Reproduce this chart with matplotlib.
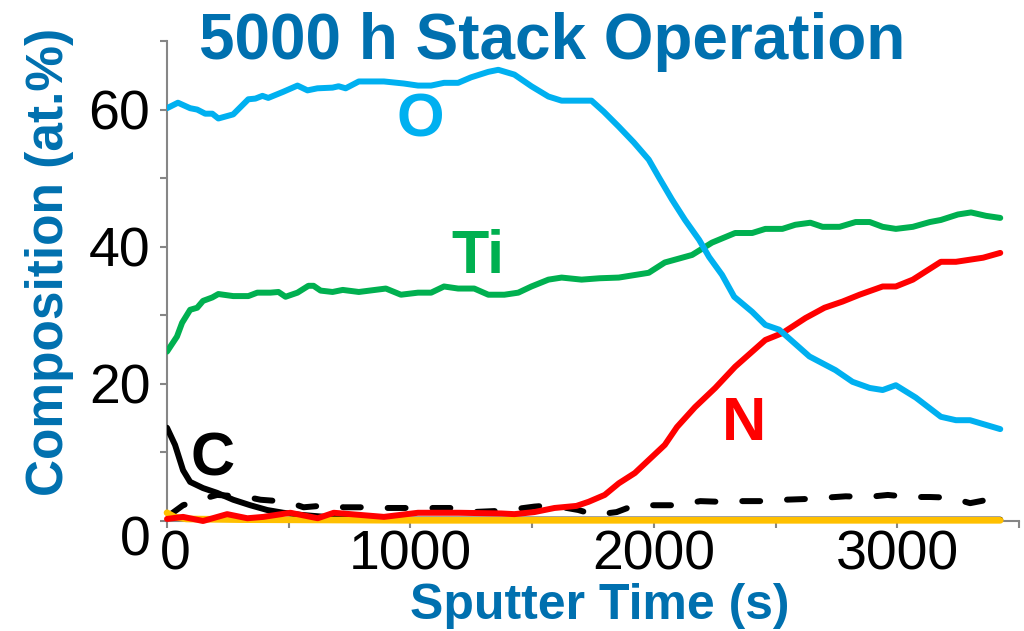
import matplotlib
matplotlib.use("Agg")
import matplotlib.pyplot as plt
import matplotlib.transforms as mtransforms

plt.rcParams['font.family'] = ['Liberation Sans', 'DejaVu Sans']

# sputter time (s) and composition (at.%)
o_t = [0, 45, 95, 124, 157, 186, 211, 272, 334, 363, 392, 416, 478, 536, 577, 618, 680, 705, 734,
       788, 891, 973, 1031, 1085, 1138, 1196, 1249, 1320, 1361, 1427, 1497, 1567, 1621, 1744, 1794,
       1856, 1918, 1979, 2021, 2074, 2128, 2186, 2227, 2280, 2330, 2404, 2458, 2515, 2639, 2746,
       2816, 2887, 2940, 2994, 3076, 3179, 3241, 3299, 3423]
o_v = [60.2, 61.0, 60.2, 60.0, 59.4, 59.4, 58.7, 59.3, 61.5, 61.6, 62.0, 61.7, 62.6, 63.5, 62.8, 63.1,
       63.2, 63.4, 63.1, 64.1, 64.1, 63.8, 63.5, 63.5, 63.9, 63.9, 64.7, 65.5, 65.8, 65.1, 63.4, 61.9,
       61.3, 61.3, 59.7, 57.5, 55.2, 52.7, 50.1, 46.9, 43.9, 41.0, 38.5, 35.9, 32.7, 30.5, 28.6, 27.9,
       24.0, 22.0, 20.3, 19.4, 19.1, 19.8, 18.0, 15.2, 14.7, 14.7, 13.4]

ti_t = [0, 41, 62, 95, 124, 148, 186, 211, 272, 334, 371, 425, 458, 487, 536, 581, 602, 631, 680,
        722, 788, 899, 961, 1031, 1085, 1138, 1196, 1262, 1320, 1386, 1443, 1497, 1567, 1621, 1703,
        1777, 1856, 1979, 2045, 2157, 2239, 2334, 2404, 2458, 2528, 2581, 2643, 2693, 2763, 2829,
        2887, 2940, 2994, 3064, 3134, 3179, 3249, 3303, 3365, 3423]
ti_v = [24.7, 26.9, 28.9, 30.8, 31.1, 32.1, 32.6, 33.1, 32.8, 32.8, 33.3, 33.3, 33.4, 32.7, 33.3, 34.3,
        34.3, 33.6, 33.4, 33.7, 33.4, 33.9, 33.0, 33.3, 33.3, 34.2, 33.9, 33.9, 33.0, 33.0, 33.3, 34.2,
        35.2, 35.5, 35.2, 35.4, 35.5, 36.2, 37.7, 38.8, 40.6, 42.0, 42.0, 42.6, 42.6, 43.2, 43.5, 42.9,
        42.9, 43.6, 43.6, 42.9, 42.6, 42.9, 43.6, 43.9, 44.7, 45.0, 44.5, 44.2]

n_t = [0, 66, 148, 247, 330, 396, 507, 619, 685, 891, 1031, 1200, 1373, 1427, 1509, 1592, 1682, 1732,
       1798, 1856, 1922, 1979, 2045, 2095, 2169, 2252, 2334, 2458, 2528, 2623, 2701, 2775, 2845,
       2940, 2994, 3064, 3117, 3179, 3241, 3353, 3423]
n_v = [0.3, 0.6, 0.0, 1.0, 0.4, 0.6, 1.2, 0.4, 1.2, 0.6, 1.2, 1.2, 1.1, 1.0, 1.3, 1.9, 2.2, 2.8, 3.8,
       5.5, 7.0, 8.9, 11.1, 13.7, 16.6, 19.4, 22.5, 26.4, 27.4, 29.6, 31.1, 32.0, 33.0, 34.2, 34.2,
       35.2, 36.4, 37.8, 37.8, 38.4, 39.1]

c_t = [0, 33, 66, 95, 148, 206, 272, 342, 412, 478, 548, 650, 800, 1000, 3423]
c_v = [13.6, 11.1, 7.4, 5.7, 4.8, 4.1, 3.1, 2.3, 1.6, 1.2, 0.9, 0.6, 0.3, 0.2, 0.2]

dash_t = [12, 66, 165, 206, 330, 384, 495, 561, 660, 726, 825, 907, 1002, 1072, 1167, 1249, 1380,
          1509, 1579, 1690, 1757, 1847, 1922, 2021, 2103, 2190, 2272, 2363, 2445, 2536, 2619, 2705,
          2788, 2878, 2961, 3052, 3134, 3221, 3299, 3386, 3423]
dash_v = [0.9, 2.3, 3.4, 3.8, 3.5, 3.1, 2.8, 2.0, 2.3, 2.0, 2.0, 1.9, 1.9, 1.9, 1.9, 1.3, 1.5, 2.1, 2.3,
          1.6, 0.9, 1.3, 2.3, 2.3, 2.3, 2.9, 2.8, 2.9, 2.9, 3.1, 3.2, 3.4, 3.6, 3.5, 3.8, 3.5, 3.5,
          3.4, 2.6, 3.2, 3.2]

y_t = [0, 30, 80, 300, 1000, 3423]
y_v = [1.2, 0.6, 0.3, 0.2, 0.1, 0.1]

labels = ['O', 'Ti', 'N', 'C']
label_pos = [(1039, 58.4), (1278, 38.4), (2371, 14.0), (186, 8.9)]
label_col = ['#00B0F0', '#00B050', '#FF0000', '#000000']

blue = '#0070AF'
gray = '#868686'

fig = plt.figure(figsize=(10.24, 6.31), dpi=100)
ax = fig.add_axes([167 / 1024, 1 - 521 / 631, (1019 - 167) / 1024, (521 - 41) / 631])

lw = 4.3
ax.plot(c_t, c_v, color='black', lw=lw, solid_capstyle='round', zorder=2)
ax.plot(dash_t, dash_v, color='black', lw=lw, dashes=(3, 4.5), dash_capstyle='round', zorder=2)
ax.plot(y_t, y_v, color='#FFC000', lw=lw + 0.5, solid_capstyle='round', zorder=3, clip_on=False)
ax.plot(n_t, n_v, color='#FF0000', lw=lw, solid_capstyle='round', zorder=4, clip_on=False)
ax.plot(ti_t, ti_v, color='#00B050', lw=lw, solid_capstyle='round', zorder=4)
ax.plot(o_t, o_v, color='#00B0F0', lw=lw, solid_capstyle='round', zorder=4)

for lab, (x, y), c in zip(labels, label_pos, label_col):
    ax.text(x, y, lab, color=c, fontsize=44, fontweight='bold', ha='center', va='center')

ax.set_xlim(0, 3500)
ax.set_ylim(0, 70)
ax.set_xticks(range(0, 3501, 500))
ax.set_xticklabels(['0', '', '1000', '', '2000', '', '3000', ''])
ax.set_yticks(range(0, 71, 10))
ax.set_yticklabels(['0', '', '20', '', '40', '', '60', ''])
ax.tick_params(axis='both', direction='out', length=5, width=1.5, color=gray, labelsize=40)
ax.tick_params(axis='x', pad=1)
ax.tick_params(axis='y', pad=7)

for s in ['top', 'right']:
    ax.spines[s].set_visible(False)
for s in ['left', 'bottom']:
    ax.spines[s].set_color(gray)
    ax.spines[s].set_linewidth(1.5)
    ax.spines[s].set_zorder(1)

# the "0" labels sit a bit off their ticks in the original
xl0 = ax.get_xticklabels()[0]
xl0.set_transform(xl0.get_transform() + mtransforms.ScaledTranslation(8 / 100, 0, fig.dpi_scale_trans))
yl0 = ax.get_yticklabels()[0]
yl0.set_transform(yl0.get_transform() + mtransforms.ScaledTranslation(0, -14 / 100, fig.dpi_scale_trans))

fig.text(552 / 1024, 1 - 59 / 631, '5000 h Stack Operation', color=blue, fontsize=46,
         fontweight='bold', ha='center', va='baseline')
fig.text(50 / 1024, 1 - 262 / 631, 'Composition (at.%)', color=blue, fontsize=37,
         fontweight='bold', ha='center', va='center', rotation=90)
fig.text(600 / 1024, 1 - 606 / 631, 'Sputter Time (s)', color=blue, fontsize=36,
         fontweight='bold', ha='center', va='center')

fig.savefig('out.png', dpi=100)
